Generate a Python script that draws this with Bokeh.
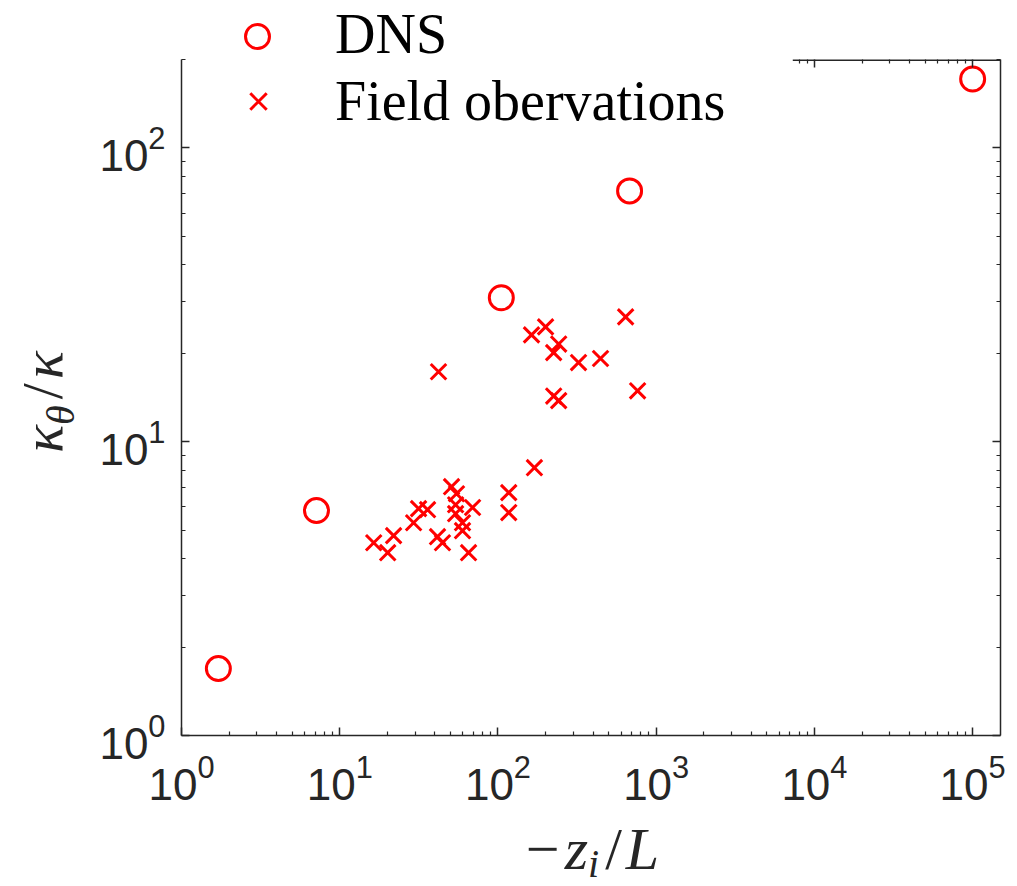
from bokeh.plotting import figure
from bokeh.models import (Range1d, LogAxis, FixedTicker, Legend, LegendItem,
                          CustomJSTickFormatter, Div)
from bokeh.layouts import row, column
from bokeh.embed import file_html
from bokeh.resources import INLINE

# ---- data ----
dns_x = [1.71, 7.13, 105, 679, 1.0e5]
dns_y = [1.69, 5.83, 30.9, 71.4, 171.7]

field_x = [641, 200, 163, 242, 225, 323, 445, 42.1, 225, 242, 763, 170,
           50.9, 54.7, 117, 117, 31.5, 35.9, 54.0, 54.0, 69.1, 29.3, 59.7,
           59.7, 21.9, 16.4, 41.5, 44.6, 20.1, 65.2]
field_y = [26.6, 24.6, 23.1, 21.5, 20.1, 18.6, 19.2, 17.3, 14.3, 13.8, 14.9, 8.16,
           7.03, 6.65, 6.71, 5.74, 5.92, 5.87, 6.10, 5.69, 5.97, 5.30, 5.30,
           4.98, 4.79, 4.53, 4.75, 4.53, 4.19, 4.19]

x_major = [1, 10, 100, 1000, 10000, 100000]
y_major = [1, 10, 100]
minor_mult = [2, 3, 4, 5, 6, 7, 8, 9]
x_minor = [m * t for t in x_major for m in minor_mult]
y_minor = [m * t for t in y_major for m in minor_mult]

series_labels = ["DNS", "Field obervations"]
RED = "#ff0000"
AX = "#262626"

X_LO, X_HI = 1, 1.5e5
Y_LO, Y_HI = 1, 200
TOP_VISIBLE_FROM = 7300   # the legend box hides the top edge left of this

# ---- layout (canvas: frame from x=181..1000, y=59..735) ----
W, H = 1017, 886
TOP_H = 57          # strip above the figure holding the first legend row
YDIV_W = 80         # strip left of the figure holding the y title
XDIV_H = 70         # strip below holding the x title
FIG_W, FIG_H = W - YDIV_W, H - TOP_H - XDIV_H
L, R, T = 181 - YDIV_W, 17, 59 - TOP_H
B = FIG_H - (735 - TOP_H)

p = figure(width=FIG_W, height=FIG_H, x_axis_type="log", y_axis_type="log",
           x_range=Range1d(X_LO, X_HI), y_range=Range1d(Y_LO, Y_HI),
           output_backend="svg", toolbar_location=None,
           min_border_left=L, min_border_right=R, min_border_top=T, min_border_bottom=B)
p.xgrid.visible = False
p.ygrid.visible = False
p.outline_line_color = None
p.background_fill_color = "white"
p.border_fill_color = "white"

bottom_ax = p.below[0]
left_ax = p.left[0]
top_ax = LogAxis()
right_ax = LogAxis()
p.add_layout(top_ax, "above")
p.add_layout(right_ax, "right")

def style(ax, ticks, minors):
    ax.ticker = FixedTicker(ticks=ticks, minor_ticks=minors)
    ax.axis_line_color = AX
    ax.axis_line_width = 1.5
    ax.major_tick_in = 8
    ax.major_tick_out = 0
    ax.minor_tick_in = 4
    ax.minor_tick_out = 0
    ax.major_tick_line_color = AX
    ax.minor_tick_line_color = AX
    ax.major_tick_line_width = 1.5
    ax.minor_tick_line_width = 1.2
    ax.major_label_text_font = "Liberation Sans"
    ax.major_label_text_font_size = "44px"
    ax.major_label_text_color = AX

style(bottom_ax, x_major, x_minor)
style(top_ax, [t for t in x_major if t >= TOP_VISIBLE_FROM],
      [t for t in x_minor if t >= TOP_VISIBLE_FROM])
style(left_ax, y_major, y_minor)
style(right_ax, y_major, y_minor)
top_ax.axis_line_color = None
bottom_ax.major_label_standoff = 18
left_ax.major_label_standoff = 16
for ax in (top_ax, right_ax):
    ax.formatter = CustomJSTickFormatter(code="return ''")
    ax.major_label_standoff = 0
    ax.major_label_text_font_size = "1px"

# visible part of the top edge of the axes box
p.segment(x0=[TOP_VISIBLE_FROM], y0=[Y_HI], x1=[X_HI], y1=[Y_HI],
          line_color=AX, line_width=3)

r_dns = p.scatter(dns_x, dns_y, marker="circle", size=24, fill_color=None,
                  line_color=RED, line_width=3)
r_field = p.scatter(field_x, field_y, marker="x", size=22,
                    line_color=RED, line_width=3)

legend = Legend(items=[LegendItem(label=series_labels[1], renderers=[r_field])],
                location=(33, 602),
                padding=0, margin=0, glyph_width=88, glyph_height=58,
                label_standoff=33, spacing=0,
                label_text_font="Liberation Serif", label_text_font_size="56px",
                label_text_color="black", border_line_color=None,
                background_fill_color="white", background_fill_alpha=1.0)
p.add_layout(legend)

# first legend row (sits above the axes box, outside the plotting frame)
top_html = (
    f'<div style="width:{W}px;height:{TOP_H}px;position:relative;">'
    f'<span style="position:absolute;left:244px;top:23px;width:21px;height:21px;'
    f'border:3px solid {RED};border-radius:50%;box-sizing:content-box;"></span>'
    '<span style="position:absolute;left:335px;top:12px;font-family:\'Liberation Serif\';'
    f'font-size:56px;line-height:0.8;color:black;white-space:nowrap;">{series_labels[0]}</span>'
    '</div>')

font = "font-family:'Liberation Serif';color:#262626;white-space:nowrap;"
ylabel_html = (
    f'<div style="width:{YDIV_W}px;height:{FIG_H}px;display:flex;align-items:center;justify-content:center;">'
    f'<div style="position:relative;left:3px;top:{402 - TOP_H - FIG_H / 2:.1f}px;transform:rotate(-90deg);'
    f'{font}font-size:58px;line-height:1;">'
    '<i>&kappa;</i><span style="position:relative;top:0.3em;font-size:40px;margin-right:6px;"><i>&theta;</i></span>'
    '<span style="margin-right:4px;">/</span><i>&kappa;</i>'
    '</div></div>')
xlabel_html = (
    f'<div style="width:{W}px;height:{XDIV_H}px;display:flex;justify-content:center;align-items:flex-start;">'
    f'<div style="position:relative;left:84px;top:9px;{font}font-size:60px;line-height:0.8;">'
    '<span style="margin-right:5px;">&minus;</span><i>z</i>'
    '<span style="position:relative;top:0.2em;font-size:40px;margin-right:6px;"><i>i</i></span>'
    '<span style="margin-right:4px;">/</span><i>L</i>'
    '</div></div>')

topdiv = Div(text=top_html, width=W, height=TOP_H, margin=0)
ydiv = Div(text=ylabel_html, width=YDIV_W, height=FIG_H, margin=0)
xdiv = Div(text=xlabel_html, width=W, height=XDIV_H, margin=0)

layout = column(topdiv, row(ydiv, p, spacing=0), xdiv, spacing=0)

open("out.html", "w").write(file_html(layout, INLINE))
